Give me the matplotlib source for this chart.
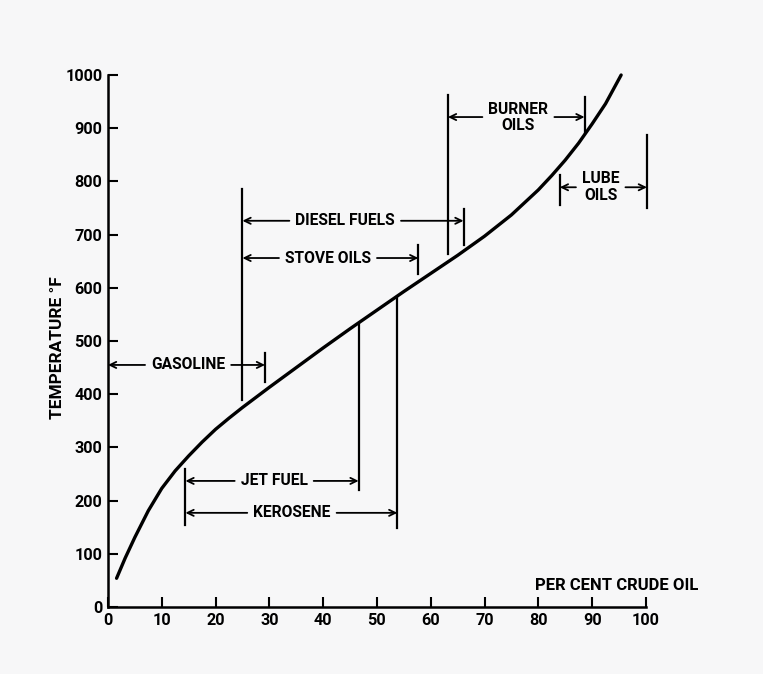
import os
import matplotlib
matplotlib.use("Agg")
import matplotlib.pyplot as plt
from matplotlib import font_manager as fm
from matplotlib.textpath import TextPath
from matplotlib.ft2font import FT2Font

plt.rcParams['font.family'] = ['DejaVu Sans']

# Distillation curve (per cent crude oil vs temperature °F)
pct = [1.6, 3.2, 5.0, 7.5, 10.0, 12.5, 15.0, 17.5, 20.0, 22.5, 25.0, 27.5,
       30.0, 35.0, 40.0, 45.0, 50.0, 55.0, 60.0, 65.0, 70.0, 75.0, 80.0,
       82.5, 85.0, 87.5, 90.0, 92.5, 95.4]
temp = [54, 92, 131, 181, 223, 256, 284, 310, 334, 355, 375, 394,
        413, 450, 487, 523, 558, 593, 627, 661, 697, 737, 784,
        811, 840, 872, 908, 946, 1000]

x_ticks = [0, 10, 20, 30, 40, 50, 60, 70, 80, 90, 100]
y_ticks = [0, 100, 200, 300, 400, 500, 600, 700, 800, 900, 1000]

# Vertical boundary lines: (x, y_bottom, y_top)
vlines = [
    (29.2, 423, 478),   # gasoline end
    (25.0, 389, 786),   # diesel / stove start
    (66.1, 680, 748),   # diesel end
    (57.7, 626, 680),   # stove end
    (63.2, 664, 962),   # burner start
    (88.6, 891, 958),   # burner end
    (84.0, 756, 812),   # lube start
    (100.2, 750, 887),  # lube end
    (14.4, 154, 259),   # jet/kerosene start
    (46.6, 220, 532),   # jet end
    (53.8, 148, 583),   # kerosene end
]

# Range labels: text, label x, label y, left arrow end, right arrow end, arrow y
ranges = [
    ("GASOLINE", 14.9, 455, 0.0, 29.2, 455),
    ("DIESEL FUELS", 44.1, 726, 25.0, 66.1, 726),
    ("STOVE OILS", 40.9, 656, 25.0, 57.7, 656),
    ("JET FUEL", 30.9, 237, 14.4, 46.6, 237),
    ("KEROSENE", 34.2, 177, 14.4, 53.8, 177),
    ("BURNER\nOILS", 76.3, 920, 63.2, 88.6, 921),
    ("LUBE\nOILS", 91.6, 789, 84.0, 100.2, 789),
]

ALLOWED = ('dejavu', 'liberation', 'noto sans', 'roboto', 'open sans', 'lato', 'inter')


def text_wh(text, prop):
    ext = TextPath((0, 0), text, size=10, prop=prop).get_extents()
    return ext.width * 100 / 72, ext.height * 100 / 72


def has_glyphs(fname, chars):
    try:
        ft = FT2Font(fname)
        return all(ft.get_char_index(ord(c)) != 0 for c in chars)
    except Exception:
        return False


def pick_font():
    # choose a bold upright sans face whose letter proportions match the lettering
    target = 72.0 / 11.7
    best = None
    seen = set()
    for f in fm.fontManager.ttflist:
        fn = os.path.basename(f.fname).lower()
        nm = f.name.lower()
        if f.fname in seen:
            continue
        seen.add(f.fname)
        if not nm.startswith(ALLOWED) or 'cjk' in nm:
            continue
        if any(k in fn for k in ('italic', 'oblique', 'mono', 'cjk', 'math', 'symbol',
                                  'semibold', 'extrabold', 'black', 'heavy', 'light', 'thin')):
            continue
        if 'serif' in nm.replace('sans', '') or 'serif' in fn.replace('sans', ''):
            continue
        if 'bold' not in fn:
            continue
        if not has_glyphs(f.fname, '°0123456789ABCDEFGHIJKLMNOPQRSTUVWXYZ'):
            continue
        try:
            prop = fm.FontProperties(fname=f.fname)
            wd, ht = text_wh("GASOLINE", prop)
        except Exception:
            continue
        if ht <= 0:
            continue
        err = abs(wd / ht - target)
        if best is None or err < best[0]:
            best = (err, f.fname)
    if best is not None:
        return fm.FontProperties(fname=best[1])
    return fm.FontProperties(family='DejaVu Sans', weight='bold')


fp = pick_font()


def fit_size(text, target_w_px, target_h_px=None):
    w, h = text_wh(text, fp)
    s = 10 * target_w_px / w
    if target_h_px is not None:
        s = 0.5 * s + 0.5 * (10 * target_h_px / h)
    return s


lab_size = fit_size("GASOLINE", 72, 11.7)
tick_size = fit_size("1000", 35, 12)
ylab_size = fit_size("TEMPERATURE °F", 141)
xlab_size = fit_size("PER CENT CRUDE OIL", 162)

fig = plt.figure(figsize=(7.63, 6.74), dpi=100)
fig.patch.set_facecolor('#f7f7f8')
ax = fig.add_axes([0.1415, 0.0994, 0.705, 0.7893])
ax.set_facecolor('none')
ax.set_xlim(0, 100)
ax.set_ylim(0, 1000)
ax.spines['top'].set_visible(False)
ax.spines['right'].set_visible(False)
for s in ('left', 'bottom'):
    ax.spines[s].set_linewidth(1.8)
ax.set_xticks(x_ticks)
ax.set_yticks(y_ticks)
ax.tick_params(direction='in', length=7, width=1.5, pad=4)
for lbl in ax.get_xticklabels() + ax.get_yticklabels():
    lbl.set_fontproperties(fp)
    lbl.set_fontsize(tick_size)

ax.plot(pct, temp, color='black', lw=2.4, solid_capstyle='round',
        solid_joinstyle='round', clip_on=False)

for x, y0, y1 in vlines:
    ax.plot([x, x], [y0, y1], color='black', lw=1.6, clip_on=False)

texts = []
for text, lx, ly, le, re_, ay in ranges:
    t = ax.text(lx, ly, text, ha='center', va='center', fontproperties=fp,
                fontsize=lab_size, linespacing=1.15)
    texts.append((t, le, re_, ay))

ax.text(-9.3, 488, 'TEMPERATURE °F', rotation=90, ha='center', va='center',
        fontproperties=fp, fontsize=ylab_size)
ax.text(79.4, 41, 'PER CENT CRUDE OIL', ha='left', va='center',
        fontproperties=fp, fontsize=xlab_size)

fig.canvas.draw()
renderer = fig.canvas.get_renderer()
inv = ax.transData.inverted()
aprops = dict(arrowstyle='->,head_length=0.45,head_width=0.22', color='black', lw=1.3,
              shrinkA=0, shrinkB=0)
gap = 6
for t, le, re_, ay in texts:
    bb = t.get_window_extent(renderer)
    x0 = inv.transform((bb.x0 - gap, bb.y0))[0]
    x1 = inv.transform((bb.x1 + gap, bb.y0))[0]
    ax.annotate('', xy=(le, ay), xytext=(x0, ay), arrowprops=aprops,
                annotation_clip=False)
    ax.annotate('', xy=(re_, ay), xytext=(x1, ay), arrowprops=aprops,
                annotation_clip=False)

fig.savefig('out.png', dpi=100, facecolor=fig.get_facecolor())
